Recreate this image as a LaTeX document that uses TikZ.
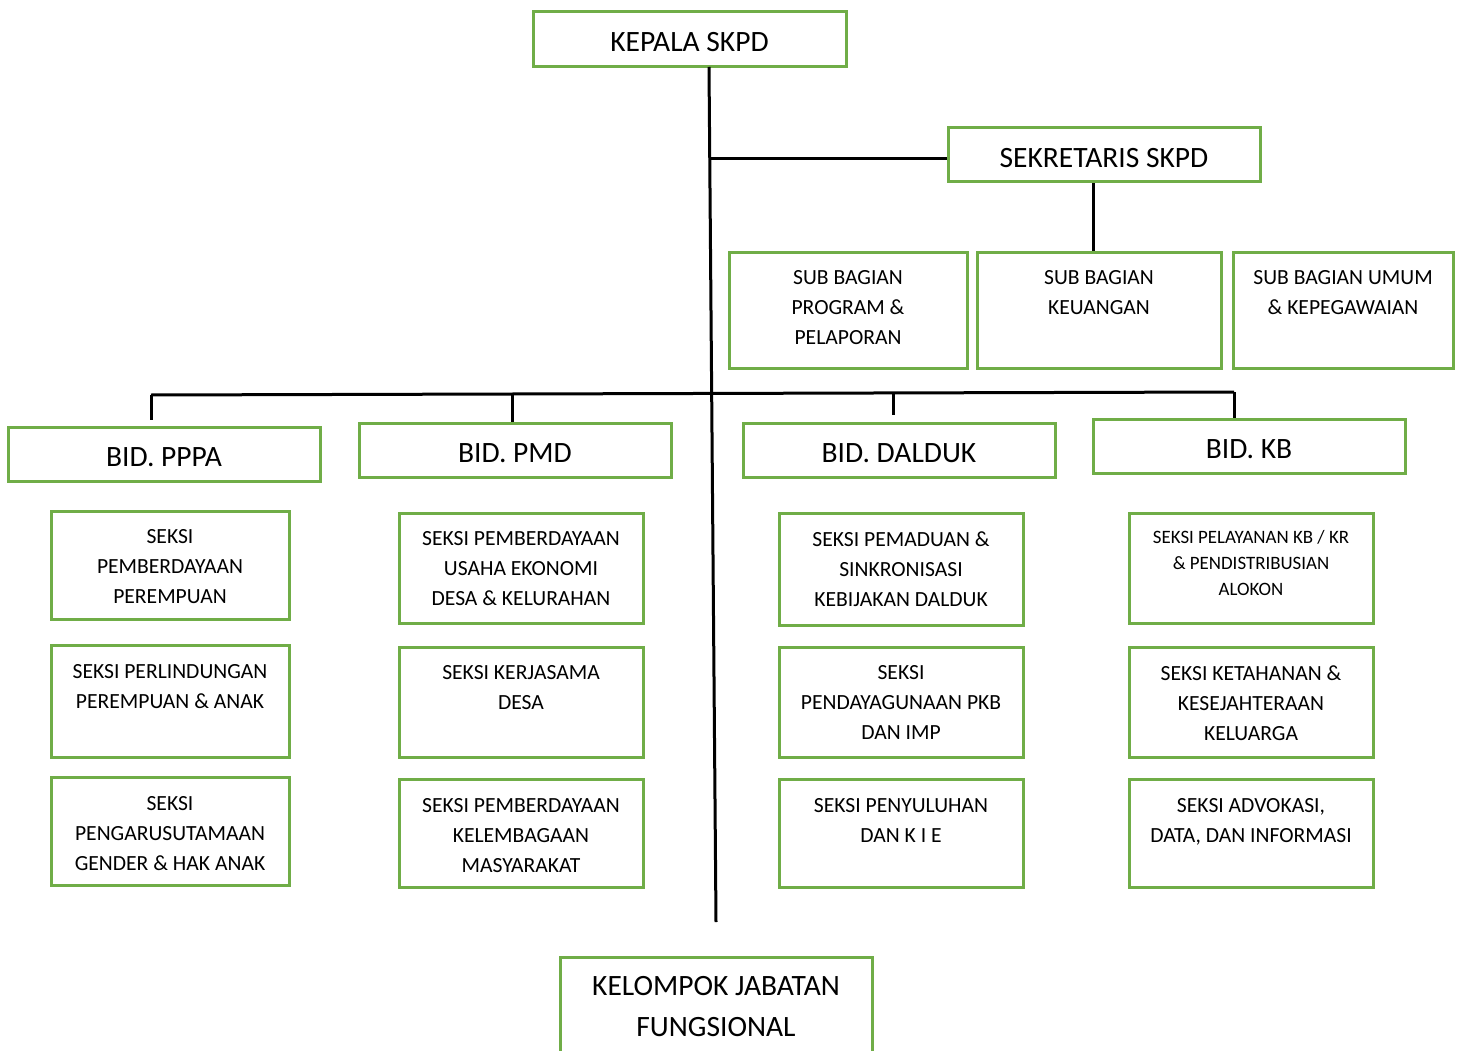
\documentclass[tikz,border=0pt]{standalone}
\usepackage{fontspec}
\setmainfont{Carlito}
\usetikzlibrary{fit}
\definecolor{boxgreen}{HTML}{70AD47}
\tikzset{
  box/.style={draw=boxgreen, line width=3pt, inner sep=0pt},
  conn/.style={draw=black, line width=3pt},
  bigtxt/.style={font=\fontsize{29.5}{41}\selectfont, align=center, inner sep=0pt},
  bigtop/.style={bigtxt, anchor=north},
  smtxt/.style={font=\fontsize{21.6}{30}\selectfont, align=center, inner sep=0pt, anchor=north},
  tinytxt/.style={font=\fontsize{18.9}{26}\selectfont, align=center, inner sep=0pt, anchor=north},
}
% name, x1, y1, x2, y2, text style, top offset, text
\newcommand\orgbox[8]{%
  \node[box, fit={(#2,#3) (#4,#5)}] (#1) {};
  \node[#6] (#1-t) at ([yshift=-#7pt]#1.north) {#8};}
% name, x1, y1, x2, y2, text
\newcommand\headbox[6]{%
  \node[box, fit={(#2,#3) (#4,#5)}] (#1) {};
  \node[bigtxt] (#1-t) at ([yshift=-3pt]#1.center) {#6};}
\begin{document}
\begin{tikzpicture}[x=1pt, y=-1pt]
\useasboundingbox (0,0) rectangle (1462,1051);
\clip (0,0) rectangle (1462,1051);
\fill[white] (0,0) rectangle (1462,1051);

% top level
\headbox{kepala}{533}{12}{846}{67}{KEPALA SKPD}
\headbox{sek}{948}{128}{1260}{182}{SEKRETARIS SKPD}

% sub bagian
\orgbox{sb1}{729}{253}{967}{368}{smtxt}{19}{SUB BAGIAN\\PROGRAM \&\\PELAPORAN}
\orgbox{sb2}{977}{253}{1221}{368}{smtxt}{19}{SUB BAGIAN\\KEUANGAN}
\orgbox{sb3}{1233}{253}{1453}{368}{smtxt}{19}{SUB BAGIAN UMUM\\\& KEPEGAWAIAN}

% bidang
\headbox{pppa}{8}{427}{320}{481}{BID. PPPA}
\headbox{pmd}{359}{423}{671}{477}{BID. PMD}
\headbox{dalduk}{743}{423}{1055}{477}{BID. DALDUK}
\headbox{kb}{1093}{419}{1405}{473}{BID. KB}

% column 1
\orgbox{c1a}{51}{511}{289}{619}{smtxt}{20}{SEKSI\\PEMBERDAYAAN\\PEREMPUAN}
\orgbox{c1b}{51}{645}{289}{757}{smtxt}{20.5}{SEKSI PERLINDUNGAN\\PEREMPUAN \& ANAK}
\orgbox{c1c}{51}{777}{289}{885}{smtxt}{20.5}{SEKSI\\PENGARUSUTAMAAN\\GENDER \& HAK ANAK}

% column 2
\orgbox{c2a}{399}{513}{643}{623}{smtxt}{20}{SEKSI PEMBERDAYAAN\\USAHA EKONOMI\\DESA \& KELURAHAN}
\orgbox{c2b}{399}{647}{643}{757}{smtxt}{20}{SEKSI KERJASAMA\\DESA}
\orgbox{c2c}{399}{779}{643}{887}{smtxt}{20.5}{SEKSI PEMBERDAYAAN\\KELEMBAGAAN\\MASYARAKAT}

% column 3
\orgbox{c3a}{779}{513}{1023}{625}{smtxt}{20}{SEKSI PEMADUAN \&\\SINKRONISASI\\KEBIJAKAN DALDUK}
\orgbox{c3b}{779}{647}{1023}{757}{smtxt}{20}{SEKSI\\PENDAYAGUNAAN PKB\\DAN IMP}
\orgbox{c3c}{779}{779}{1023}{887}{smtxt}{20.5}{SEKSI PENYULUHAN\\DAN K I E}

% column 4
\orgbox{c4a}{1129}{513}{1373}{623}{tinytxt}{19}{SEKSI PELAYANAN KB / KR\\\& PENDISTRIBUSIAN\\ALOKON}
\orgbox{c4b}{1129}{647}{1373}{757}{smtxt}{20}{SEKSI KETAHANAN \&\\KESEJAHTERAAN\\KELUARGA}
\orgbox{c4c}{1129}{779}{1373}{887}{smtxt}{20.5}{SEKSI ADVOKASI,\\DATA, DAN INFORMASI}

% kelompok jabatan fungsional (bottom cut by page edge)
\orgbox{kjf}{560}{957}{872}{1080}{bigtop}{21}{KELOMPOK JABATAN\\FUNGSIONAL}

% connectors
\coordinate (vtop) at (709,67);
\coordinate (vbot) at (716,922);
\draw[conn] (vtop) -- (vbot);

\coordinate (sj) at (710,159);
\draw[conn] (sj) -- (sj -| sek.west);

\draw[conn] ([xshift=-11pt]sek.south) -- ([xshift=-11pt]sek.south |- sb2.north);

\coordinate (busl) at (151,395);
\coordinate (busr) at (1234,392);
\draw[conn] (busl) -- (busr);

\coordinate (dpppa) at (151,420);
\draw[conn] (busl) -- (dpppa);
\coordinate (bpmd) at (512,394);
\draw[conn] (bpmd) -- (bpmd |- pmd.north);
\coordinate (bdal) at (893,392);
\coordinate (ddal) at (893,415);
\draw[conn] (bdal) -- (ddal);
\draw[conn] (busr) -- (busr |- kb.north);
\end{tikzpicture}
\end{document}
